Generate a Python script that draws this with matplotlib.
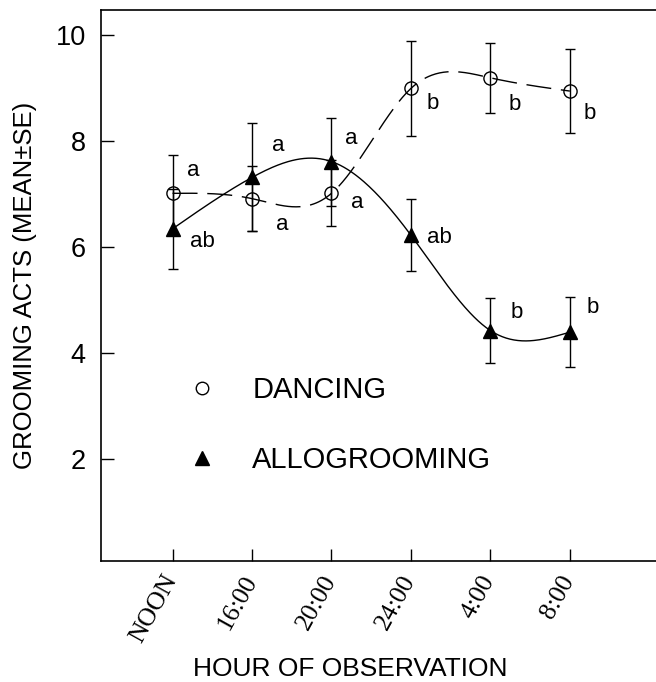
import numpy as np
import matplotlib
matplotlib.use('Agg')
import matplotlib.pyplot as plt
from matplotlib.lines import Line2D
from matplotlib.transforms import ScaledTranslation

plt.rcParams['font.family'] = ['Liberation Sans', 'DejaVu Sans']

hours = ['NOON', '16:00', '20:00', '24:00', '4:00', '8:00']
dancing = [7.01, 6.91, 7.01, 8.99, 9.19, 8.94]
dancing_se = [0.73, 0.62, 0.62, 0.89, 0.66, 0.80]
allo = [6.34, 7.31, 7.61, 6.22, 4.42, 4.39]
allo_se = [0.76, 1.02, 0.83, 0.68, 0.61, 0.66]
dancing_letters = ['a', 'a', 'a', 'b', 'b', 'b']
allo_letters = ['ab', 'a', 'a', 'ab', 'b', 'b']

# where the significance letters sit relative to each point (pixels)
dancing_off = [(21, 23), (30, -26), (26, -9), (22, -15), (24, -27), (20, -22)]
allo_off = [(30, -13), (26, 32), (20, 23), (29, -2), (26, 18), (23, 25)]


def natural_spline(x, y, num=300):
    x = np.asarray(x, float)
    y = np.asarray(y, float)
    n = len(x)
    h = np.diff(x)
    A = np.zeros((n, n))
    b = np.zeros(n)
    A[0, 0] = A[-1, -1] = 1
    for i in range(1, n - 1):
        A[i, i - 1] = h[i - 1]
        A[i, i] = 2 * (h[i - 1] + h[i])
        A[i, i + 1] = h[i]
        b[i] = 6 * ((y[i + 1] - y[i]) / h[i] - (y[i] - y[i - 1]) / h[i - 1])
    M = np.linalg.solve(A, b)
    xs = np.linspace(x[0], x[-1], num)
    k = np.clip(np.searchsorted(x, xs) - 1, 0, n - 2)
    t0 = xs - x[k]
    t1 = x[k + 1] - xs
    hk = h[k]
    ys = (M[k] * t1**3 + M[k + 1] * t0**3) / (6 * hk) \
        + (y[k] / hk - M[k] * hk / 6) * t1 + (y[k + 1] / hk - M[k + 1] * hk / 6) * t0
    return xs, ys


fig = plt.figure(figsize=(6.56, 6.82), dpi=100)
ax = fig.add_axes([0.154, 0.1774, 0.8455, 0.8079])

x = np.arange(len(hours))

xs, ys = natural_spline(x, dancing)
ax.plot(xs, ys, color='k', lw=1.0, ls=(0, (18, 7)))
xs, ys = natural_spline(x, allo)
ax.plot(xs, ys, color='k', lw=1.0)

ax.errorbar(x, dancing, yerr=dancing_se, fmt='none', ecolor='k', elinewidth=1.0,
            capsize=3.6, capthick=1.0)
ax.errorbar(x, allo, yerr=allo_se, fmt='none', ecolor='k', elinewidth=1.0,
            capsize=3.6, capthick=1.0)
ax.plot(x, dancing, 'o', ms=9.5, mfc='none', mec='k', mew=1.0)
ax.plot(x, allo, '^', ms=10.5, color='k')

for xi, yi, lab, off in zip(x, dancing, dancing_letters, dancing_off):
    ax.annotate(lab, (xi, yi), xytext=off, textcoords='offset pixels',
                ha='center', va='center', fontsize=16)
for xi, yi, lab, off in zip(x, allo, allo_letters, allo_off):
    ax.annotate(lab, (xi, yi), xytext=off, textcoords='offset pixels',
                ha='center', va='center', fontsize=16)

handles = [Line2D([], [], ls='none', marker='o', ms=9, mfc='none', mec='k', mew=1.0),
           Line2D([], [], ls='none', marker='^', ms=10, color='k')]
ax.legend(handles, ['DANCING', 'ALLOGROOMING'], loc='upper left',
          bbox_to_anchor=(0.155, 0.336), frameon=False, fontsize=21,
          handlelength=1.0, handletextpad=1.24, labelspacing=1.44,
          borderpad=0, borderaxespad=0)

ax.set_xlim(-0.9, 6.08)
ax.set_ylim(0.07, 10.47)
ax.set_yticks([2, 4, 6, 8, 10])
ax.set_xticks(x)
ax.tick_params(axis='both', direction='in', length=9, width=1.0)
ax.tick_params(axis='y', labelsize=19.5, pad=11)
ax.tick_params(axis='x', pad=4.5)
ax.set_xticklabels(hours, rotation=61, ha='right', va='top',
                   family='Liberation Serif', fontsize=18.5)
# nudge the slanted hour labels so their upper end sits right of the tick
shift = ScaledTranslation(0.09, -0.04, fig.dpi_scale_trans)
for lab in ax.get_xticklabels():
    lab.set_transform(lab.get_transform() + shift)
ax.spines['right'].set_visible(False)
for s in ['left', 'top', 'bottom']:
    ax.spines[s].set_linewidth(1.2)

ax.set_ylabel('GROOMING ACTS (MEAN±SE)', fontsize=18.5)
ax.yaxis.set_label_coords(-0.1155, 0.5)
ax.set_xlabel('HOUR OF OBSERVATION', fontsize=19)
ax.xaxis.set_label_coords(0.449, -0.174)

plt.savefig('out.png', dpi=100)
